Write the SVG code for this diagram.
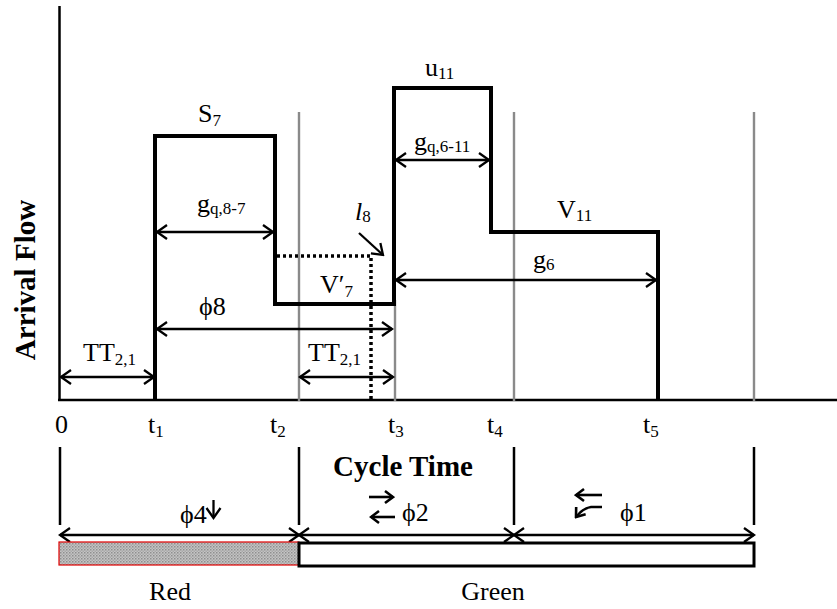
<svg xmlns="http://www.w3.org/2000/svg" width="837" height="609" viewBox="0 0 837 609">
<style>
.lbl{font-family:"Liberation Serif","Times New Roman",serif;font-size:26px;fill:#000}
.sub{font-size:17px}
.bold{font-family:"Liberation Serif","Times New Roman",serif;font-size:29px;font-weight:bold;fill:#000}
.big{font-family:"Liberation Serif","Times New Roman",serif;font-size:26px;fill:#000}
.axis{stroke:#000;stroke-width:2.5;fill:none}
.grid{stroke:#8a8a8a;stroke-width:2.4;fill:none}
.flow{stroke:#000;stroke-width:4;fill:none;stroke-linejoin:miter}
.dim{stroke:#000;stroke-width:2.3;fill:none;marker-start:url(#ah);marker-end:url(#ah)}
.one{stroke:#000;stroke-width:2.3;fill:none;marker-end:url(#ah)}
.sym{stroke:#000;stroke-width:2.6;fill:none;marker-end:url(#sm)}
.dot{stroke:#000;stroke-width:3.5;fill:none;stroke-dasharray:3 3}
</style>
<defs>
<marker id="ah" viewBox="-12 -9 14 18" refX="0" refY="0" markerWidth="14" markerHeight="18" markerUnits="userSpaceOnUse" orient="auto-start-reverse"><path d="M-10,-7 L0,0 L-10,7" fill="none" stroke="#000" stroke-width="2.3"/></marker>
<marker id="sm" viewBox="-10 -8 12 16" refX="0" refY="0" markerWidth="12" markerHeight="16" markerUnits="userSpaceOnUse" orient="auto"><path d="M-8,-6 L0,0 L-8,6" fill="none" stroke="#000" stroke-width="2.6"/></marker>
<pattern id="hatch" width="3" height="3" patternUnits="userSpaceOnUse"><rect width="3" height="3" fill="#c4c4c4"/><rect width="1.5" height="1.5" fill="#8f8f8f"/><rect x="1.5" y="1.5" width="1.5" height="1.5" fill="#a8a8a8"/></pattern>
</defs>

<g id="axes">
<line class="axis" x1="59.5" y1="6" x2="59.5" y2="400"/>
<line class="axis" x1="58" y1="400" x2="837" y2="400"/>
</g>

<g id="gridlines">
<line class="grid" x1="299" y1="112" x2="299" y2="401"/>
<line class="grid" x1="395" y1="300" x2="395" y2="401"/>
<line class="grid" x1="514" y1="112" x2="514" y2="401"/>
<line class="grid" x1="754" y1="112" x2="754" y2="401"/>
</g>

<g id="flow-curve">
<path class="flow" d="M155,401 V136 H275 V304 H394 V88 H491 V232 H658 V401"/>
</g>

<g id="l8-dotted">
<path class="dot" d="M277,256 H371 V400"/>
</g>

<g id="connectors">
<line class="dim" x1="61" y1="377" x2="154" y2="377"/>
<line class="dim" x1="300" y1="377" x2="393" y2="377"/>
<line class="dim" x1="157" y1="232" x2="273" y2="232"/>
<line class="dim" x1="157" y1="329" x2="392" y2="329"/>
<line class="dim" x1="396" y1="160" x2="489" y2="160"/>
<line class="dim" x1="396" y1="280" x2="656" y2="280"/>
<line class="one" x1="359" y1="233" x2="383" y2="255"/>
<line class="dim" x1="60" y1="535" x2="299" y2="535"/>
<line class="dim" x1="299" y1="535" x2="514" y2="535"/>
<line class="dim" x1="514" y1="535" x2="754" y2="535"/>
<line class="one" x1="213.5" y1="500" x2="213.5" y2="518"/>
</g>

<g id="labels">
<text class="lbl" x="198" y="122">S<tspan class="sub" dy="4">7</tspan></text>
<text class="lbl" x="197" y="212">g<tspan class="sub" dy="2">q,8-7</tspan></text>
<text class="lbl" x="199" y="315">ϕ8</text>
<text class="lbl" x="83" y="361">TT<tspan class="sub" dy="4">2,1</tspan></text>
<text class="lbl" x="308" y="361">TT<tspan class="sub" dy="4">2,1</tspan></text>
<text class="lbl" x="320" y="293">V′<tspan class="sub" dy="4">7</tspan></text>
<text class="lbl" x="355" y="220"><tspan font-style="italic">l</tspan><tspan class="sub" dy="2">8</tspan></text>
<text class="lbl" x="425" y="76">u<tspan class="sub" dy="3">11</tspan></text>
<text class="lbl" x="414" y="150">g<tspan class="sub" dy="2">q,6-11</tspan></text>
<text class="lbl" x="557" y="218">V<tspan class="sub" dy="3">11</tspan></text>
<text class="lbl" x="533" y="268">g<tspan class="sub" dy="2">6</tspan></text>
<text class="bold" transform="translate(35,280) rotate(-90)" text-anchor="middle">Arrival Flow</text>
</g>

<g id="ticks">
<text class="lbl" x="55" y="433">0</text>
<text class="lbl" x="148" y="433">t<tspan class="sub" dy="4">1</tspan></text>
<text class="lbl" x="270" y="433">t<tspan class="sub" dy="4">2</tspan></text>
<text class="lbl" x="388" y="433">t<tspan class="sub" dy="4">3</tspan></text>
<text class="lbl" x="487" y="433">t<tspan class="sub" dy="4">4</tspan></text>
<text class="lbl" x="643" y="433">t<tspan class="sub" dy="4">5</tspan></text>
<text class="bold" x="403" y="476" text-anchor="middle">Cycle Time</text>
</g>

<g id="phase-separators">
<line class="axis" x1="60" y1="447" x2="60" y2="525"/>
<line class="axis" x1="299" y1="447" x2="299" y2="525"/>
<line class="axis" x1="514" y1="447" x2="514" y2="525"/>
<line class="axis" x1="754" y1="447" x2="754" y2="525"/>
</g>

<g id="phase4">
<text class="lbl" x="180" y="523">ϕ4</text>
</g>
<g id="phase2">
<line class="sym" x1="369" y1="497" x2="393" y2="497"/>
<line class="sym" x1="395" y1="517" x2="371" y2="517"/>
<text class="lbl" x="402" y="521">ϕ2</text>
</g>
<g id="phase1">
<line class="sym" x1="602" y1="495" x2="576" y2="495"/>
<path class="sym" d="M602,507 L591,507 Q583,508 576,517"/>
<text class="lbl" x="620" y="521">ϕ1</text>
</g>

<g id="red-bar">
<rect x="59" y="542" width="240" height="23" fill="url(#hatch)" stroke="#e00000" stroke-width="1.2"/>
<text class="big" x="170" y="600" text-anchor="middle">Red</text>
</g>
<g id="green-bar">
<rect x="299" y="543" width="455" height="23" fill="#fff" stroke="#000" stroke-width="3"/>
<text class="big" x="493" y="600" text-anchor="middle">Green</text>
</g>
</svg>
